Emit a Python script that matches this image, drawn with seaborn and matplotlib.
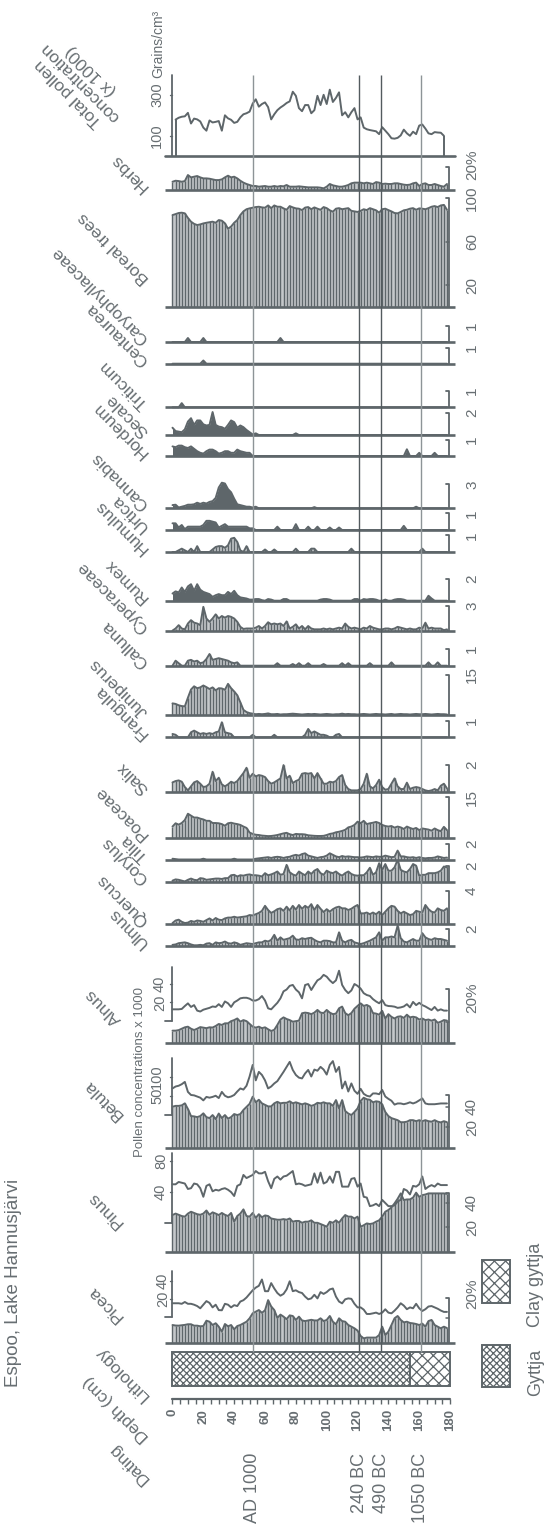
import numpy as np
import matplotlib
matplotlib.use("Agg")
import matplotlib.pyplot as plt
from matplotlib.patches import Rectangle
import seaborn as sns

sns.set_theme(style="white")
plt.rcParams["font.family"] = ["Liberation Sans", "DejaVu Sans"]
plt.rcParams["hatch.linewidth"] = 0.9

# ------------------------------------------------------------------
# Data: sample depths (cm), pollen percentages and concentrations
# ------------------------------------------------------------------
DEPTH = np.arange(0, 180, 2)
TOTAL_DEPTH = DEPTH[1:89]

PICEA_PCT = [14.4, 14.0, 13.9, 14.2, 14.5, 15.0, 15.0, 13.9, 13.9, 13.4,
             13.6, 17.8, 17.0, 14.4, 15.8, 13.1, 9.2, 15.2, 13.4, 14.4,
             11.0, 13.6, 14.4, 15.7, 17.0, 19.7, 23.6, 24.9, 26.2, 24.0,
             26.0, 34.0, 29.0, 26.2, 20.0, 22.6, 21.0, 19.0, 22.0, 21.5,
             18.4, 21.0, 18.0, 17.5, 18.0, 18.5, 18.0, 18.0, 19.7, 17.5,
             18.4, 21.5, 17.0, 15.0, 19.7, 17.5, 17.0, 14.4, 13.1, 11.8,
             10.0, 5.8, 3.9, 4.5, 4.5, 4.5, 4.5, 6.5, 13.1, 6.5,
             9.2, 14.4, 19.7, 21.5, 18.4, 16.5, 17.0, 16.0, 15.7, 15.2,
             14.4, 15.5, 13.1, 17.5, 18.4, 14.4, 13.1, 11.8, 13.1, 12.0]
PICEA_CONC = [15.6, 15.6, 15.6, 15.0, 17.0, 15.0, 15.0, 14.0, 12.5, 10.0,
              14.0, 18.0, 16.0, 11.0, 14.0, 8.0, 7.8, 15.0, 14.0, 11.0,
              13.5, 12.5, 17.5, 19.0, 22.0, 26.0, 30.0, 33.0, 35.0, 42.0,
              29.0, 29.0, 38.0, 32.0, 27.0, 24.0, 26.0, 31.0, 40.0, 29.0,
              30.0, 28.0, 27.0, 23.0, 20.0, 21.0, 25.0, 21.0, 28.0, 26.0,
              28.0, 31.0, 32.0, 23.0, 17.5, 15.5, 20.0, 21.0, 20.5, 15.0,
              11.0, 11.0, 8.5, 3.7, 3.7, 4.4, 5.2, 3.7, 5.2, 8.9,
              5.2, 4.4, 7.4, 11.0, 15.6, 13.0, 9.0, 11.0, 10.0, 15.0,
              10.0, 7.0, 9.0, 12.0, 12.5, 11.0, 9.5, 7.5, 6.0, 6.0]
PINUS_PCT = [29.8, 31.0, 30.0, 29.0, 28.5, 31.0, 32.5, 31.5, 30.5, 30.0,
             31.0, 33.5, 30.0, 32.0, 31.0, 29.8, 31.5, 30.0, 29.0, 31.5,
             24.4, 29.0, 31.0, 34.4, 29.0, 28.5, 31.5, 27.5, 30.5, 28.0,
             29.5, 29.0, 27.0, 26.5, 26.0, 26.0, 26.5, 26.0, 27.0, 24.4,
             25.0, 25.0, 23.5, 24.4, 24.4, 25.5, 23.5, 23.5, 22.5, 21.5,
             20.3, 24.4, 23.5, 25.5, 23.5, 27.0, 29.8, 28.5, 28.5, 27.0,
             28.5, 20.3, 21.5, 23.0, 22.5, 23.0, 24.4, 25.5, 28.5, 32.5,
             33.9, 36.0, 39.3, 43.0, 47.4, 42.0, 42.5, 42.5, 44.0, 48.0,
             44.5, 46.0, 46.5, 47.4, 47.4, 47.4, 47.4, 47.4, 47.4, 47.0]
PINUS_CONC = [50, 50, 53, 52, 51, 44, 45, 51, 50, 45,
              34, 48, 50, 41, 43, 42, 44, 45, 43, 40,
              35, 48, 50, 62, 58, 60, 62, 67, 64, 64,
              66, 54, 45, 57, 60, 56, 60, 61, 64, 67,
              50, 51, 50, 48, 49, 50, 64, 52, 65, 51,
              53, 60, 52, 66, 66, 47, 47, 47, 57, 58,
              47, 51, 34, 33, 22, 23, 25, 22, 30, 26,
              22, 22, 23, 28, 30, 44, 42, 37, 48, 47,
              50, 60, 44, 47, 49, 47, 51, 49, 49, 49]
BETULA_PCT = [40.2, 41.0, 41.0, 41.5, 43.5, 38.0, 31.0, 30.7, 30.0, 31.0,
              33.7, 30.0, 29.0, 32.0, 28.0, 33.5, 29.0, 32.0, 28.5, 30.0,
              33.0, 32.0, 33.0, 37.0, 40.0, 43.0, 50.0, 44.5, 47.0, 43.5,
              42.0, 40.5, 40.5, 43.5, 45.0, 43.5, 44.0, 44.0, 45.5, 43.5,
              44.5, 43.5, 42.5, 43.5, 42.5, 41.0, 42.0, 44.0, 43.5, 44.5,
              43.5, 43.5, 41.0, 46.7, 38.6, 46.7, 36.0, 33.5, 32.0, 35.0,
              38.5, 45.8, 49.0, 47.5, 47.0, 44.5, 45.5, 45.0, 42.5, 35.0,
              31.0, 29.0, 28.0, 27.0, 25.0, 25.0, 25.5, 27.0, 27.0, 26.0,
              27.0, 26.0, 27.0, 26.0, 25.5, 27.0, 25.5, 24.8, 26.0, 25.0]
BETULA_CONC = [69, 74, 76, 80, 86, 60, 52, 51, 48, 45,
               38, 47, 45, 47, 50, 44, 60, 50, 46, 48,
               52, 61, 69, 66, 76, 100, 130, 90, 112, 104,
               90, 69, 74, 82, 88, 100, 112, 125, 138, 117,
               104, 97, 95, 108, 117, 100, 118, 115, 125, 118,
               105, 130, 140, 112, 125, 69, 87, 61, 82, 63,
               55, 68, 55, 50, 48, 56, 56, 54, 65, 48,
               42, 37, 27, 30, 30, 28, 30, 33, 30, 33,
               38, 43, 30, 28, 28, 28, 29, 30, 30, 30]
ALNUS_PCT = [11.7, 11.7, 12.2, 13.5, 14.8, 15.4, 13.5, 12.3, 13.5, 15.0,
             14.5, 14.0, 14.8, 14.6, 16.0, 17.9, 17.0, 18.5, 18.5, 20.5,
             21.5, 23.0, 20.0, 21.5, 20.5, 18.0, 15.4, 14.5, 15.4, 14.0,
             14.8, 13.0, 11.4, 12.5, 17.0, 22.0, 24.0, 22.5, 21.5, 20.0,
             20.5, 21.0, 27.8, 28.4, 28.0, 27.0, 28.4, 30.9, 28.4, 28.0,
             30.9, 28.4, 27.0, 27.5, 32.4, 34.0, 28.0, 26.0, 28.0, 32.0,
             34.6, 37.0, 34.6, 35.5, 34.0, 28.0, 27.5, 26.5, 30.0, 23.0,
             27.0, 24.5, 23.0, 24.6, 25.0, 23.5, 26.5, 24.0, 24.6, 24.0,
             22.0, 23.0, 21.5, 22.0, 21.0, 22.0, 19.0, 20.0, 21.5, 21.0]
ALNUS_CONC = [12.4, 12.4, 12.4, 12.8, 16.0, 18.9, 15.0, 17.0, 11.0, 10.0,
              12.0, 13.0, 14.0, 15.5, 15.0, 18.0, 15.0, 21.0, 19.0, 15.0,
              20.0, 22.0, 24.4, 25.0, 25.0, 24.0, 22.0, 22.0, 23.5, 26.9,
              22.0, 13.5, 12.4, 16.0, 19.5, 24.4, 32.0, 34.0, 38.0, 39.0,
              34.0, 31.0, 24.4, 38.9, 40.0, 33.5, 39.0, 44.0, 46.0, 50.0,
              48.0, 44.0, 41.0, 44.0, 54.5, 39.0, 33.5, 30.0, 33.0, 40.0,
              38.0, 35.0, 30.0, 28.0, 27.0, 23.5, 21.0, 19.0, 22.5, 17.0,
              16.0, 15.8, 15.3, 14.0, 14.5, 15.5, 18.0, 14.5, 20.5, 17.0,
              19.5, 17.0, 15.5, 13.5, 11.6, 15.0, 11.0, 12.4, 11.0, 11.0]
ULMUS = [0.1, 0.15, 0.3, 0.35, 0.4, 0.3, 0.15, 0.05, 0.05, 0.1,
         0.05, 0.25, 0.3, 0.1, 0.4, 0.3, 0.35, 0.5, 0.3, 0.25,
         0.4, 0.3, 0.1, 0.2, 0.3, 0.25, 0.2, 0.3, 0.4, 0.4,
         0.6, 0.5, 0.7, 1.3, 0.6, 1.0, 0.7, 0.8, 0.9, 1.2,
         0.75, 0.7, 0.9, 0.8, 0.9, 0.95, 0.7, 0.5, 0.4, 0.6,
         0.6, 0.55, 0.4, 0.4, 1.6, 0.6, 0.4, 0.6, 0.7, 0.4,
         0.3, 0.2, 0.3, 0.45, 0.6, 0.8, 1.0, 1.6, 0.6, 1.0,
         1.0, 1.1, 1.0, 2.4, 0.9, 0.5, 0.4, 0.6, 0.8, 0.6,
         0.6, 1.5, 1.0, 0.8, 0.7, 0.9, 0.8, 0.8, 0.7, 0.6]
QUERCUS = [0.15, 0.45, 0.55, 0.3, 0.15, 0.2, 0.4, 0.3, 0.45, 0.4,
           0.3, 0.5, 0.7, 0.45, 0.75, 0.55, 0.5, 0.7, 0.8, 0.8,
           0.9, 0.8, 0.85, 0.9, 0.95, 1.1, 1.05, 1.2, 1.35, 1.6,
           2.2, 1.7, 1.35, 1.55, 1.8, 1.9, 1.6, 2.1, 1.65, 2.2,
           1.75, 2.3, 1.85, 2.2, 1.95, 2.4, 1.7, 2.3, 1.85, 1.45,
           1.8, 1.5, 1.8, 2.0, 2.1, 1.9, 1.9, 1.7, 1.85, 2.1,
           2.3, 1.3, 1.3, 1.4, 1.2, 1.4, 1.2, 1.5, 1.1, 1.5,
           1.9, 2.2, 2.1, 1.6, 1.3, 1.5, 1.3, 1.1, 1.2, 1.6,
           1.5, 1.4, 2.3, 1.8, 1.5, 1.4, 1.9, 1.7, 1.6, 1.9]
CORYLUS = [0.2, 0.35, 0.3, 0.2, 0.1, 0.3, 0.45, 0.3, 0.25, 0.5,
           0.45, 0.3, 0.35, 0.4, 0.45, 0.45, 0.4, 0.5, 0.5, 0.85,
           0.9, 0.7, 0.85, 0.8, 0.9, 0.95, 0.85, 0.85, 0.8, 0.7,
           1.1, 0.85, 0.95, 1.1, 1.3, 0.9, 1.0, 2.1, 1.2, 0.95,
           0.8, 1.3, 1.05, 0.85, 1.3, 1.0, 1.4, 1.6, 1.1, 0.9,
           1.4, 1.2, 1.1, 1.3, 1.0, 0.8, 1.1, 1.3, 1.0, 0.85,
           0.8, 0.85, 0.85, 1.2, 1.75, 0.9, 1.2, 2.3, 1.5, 2.2,
           1.4, 1.4, 1.8, 2.7, 1.5, 1.3, 1.2, 1.6, 2.2, 2.0,
           0.8, 0.9, 0.9, 1.1, 1.1, 1.1, 1.2, 1.4, 1.9, 1.8]
TILIA = [0.1, 0.05, 0, 0, 0, 0, 0, 0, 0, 0,
         0.1, 0, 0, 0, 0, 0, 0, 0, 0, 0,
         0.1, 0, 0, 0, 0, 0, 0, 0.1, 0.15, 0.2,
         0.25, 0.3, 0.2, 0.3, 0.35, 0.3, 0.2, 0.3, 0.35, 0.5,
         0.6, 0.5, 0.7, 0.8, 0.5, 0.4, 0.3, 0.2, 0.3, 0.35,
         0.5, 0.8, 0.6, 0.4, 0.3, 0.45, 0.35, 0.4, 0.35, 0.3,
         0.3, 0.25, 0.3, 0.4, 0.35, 0.3, 0.4, 0.35, 0.35, 0.5,
         0.4, 0.3, 0.35, 1.15, 0.4, 0.4, 0.3, 0.25, 0.3, 0.2,
         0.3, 0.2, 0.15, 0.2, 0.2, 0.25, 0.4, 0.3, 0.2, 0.25]
POACEAE = [4.3, 5.5, 5.0, 5.6, 6.7, 9.0, 8.3, 7.6, 7.6, 7.2,
           6.9, 6.4, 6.4, 5.6, 5.6, 5.5, 5.2, 4.6, 5.5, 5.7,
           5.4, 5.2, 4.9, 4.3, 3.8, 2.1, 1.6, 1.3, 1.2, 1.0,
           0.9, 0.8, 0.85, 1.0, 1.2, 1.5, 1.8, 2.0, 1.5, 1.2,
           1.6, 1.5, 1.5, 1.4, 1.1, 1.0, 0.9, 0.85, 0.85, 0.9,
           1.2, 1.6, 1.8, 2.2, 2.4, 2.7, 3.1, 4.0, 4.3, 4.9,
           6.1, 5.5, 6.4, 5.2, 5.5, 5.7, 6.0, 5.6, 4.9, 4.5,
           4.3, 4.5, 3.9, 4.3, 4.0, 3.4, 4.3, 3.8, 3.4, 3.8,
           3.0, 3.6, 3.4, 3.2, 2.8, 3.6, 3.0, 2.6, 4.2, 3.0]
SALIX = [0.7, 0.8, 0.85, 0.75, 0.35, 0.1, 0.4, 0.7, 0.8, 0.6,
         0.35, 0.4, 0.6, 1.5, 0.8, 1.05, 0.55, 0.4, 0.55, 0.75,
         0.65, 0.8, 1.1, 1.4, 1.8, 1.05, 1.35, 1.15, 1.25, 1.2,
         1.1, 0.8, 0.6, 0.7, 0.85, 1.0, 2.0, 1.0, 1.2, 0.65,
         0.8, 0.9, 1.35, 1.4, 1.35, 1.4, 1.0, 1.4, 1.0, 0.6,
         0.6, 0.75, 0.7, 0.8, 1.1, 1.25, 0.5, 0.2, 0.1, 0.1,
         0.1, 0.2, 0.6, 1.35, 0.4, 0.25, 0.5, 0.9, 0.35, 0.15,
         0.2, 0.6, 1.0, 0.4, 0.2, 0.2, 0.68, 0.2, 0.3, 0.35,
         0.3, 0.2, 0.1, 0.05, 0.1, 0.2, 0.1, 0.45, 0.6, 0.25]
FRANGULA = [0.2, 0.15, 0, 0, 0, 0, 0.3, 0.4, 0.3, 0.2,
            0.25, 0.2, 0.25, 0.2, 0.3, 0.35, 0.9, 0.3, 0.25, 0.2,
            0, 0, 0, 0, 0, 0, 0.15, 0, 0, 0,
            0, 0, 0, 0.15, 0, 0, 0, 0, 0, 0,
            0, 0, 0, 0.15, 0.5, 0.25, 0.35, 0.25, 0.15, 0.15,
            0.1, 0, 0, 0.15, 0.2, 0, 0, 0, 0, 0,
            0, 0, 0, 0, 0, 0, 0, 0, 0, 0,
            0, 0, 0, 0, 0, 0, 0, 0, 0, 0,
            0, 0, 0, 0, 0, 0, 0, 0, 0, 0]
JUNIPERUS = [4.4, 4.2, 3.7, 3.4, 3.3, 6.5, 9.5, 10.7, 10.0, 10.3,
             11.0, 10.4, 9.7, 10.3, 9.2, 10.0, 9.9, 9.4, 11.6, 10.0,
             8.8, 7.4, 4.8, 2.0, 1.2, 0.8, 0.6, 0.4, 0.5, 0.4,
             0.5, 0.7, 0.4, 0.4, 0.5, 0.3, 0.4, 0.4, 0.5, 0.6,
             0.5, 0.4, 0.3, 0.4, 0.5, 0.4, 0.5, 0.4, 0.3, 0.4,
             0.5, 0.4, 0.3, 0.4, 0.4, 0.6, 0.4, 0.5, 0.4, 0.4,
             0.3, 0.4, 0.5, 0.4, 0.3, 0.4, 0.5, 0.4, 0.4, 0.3,
             0.4, 0.5, 0.3, 0.4, 0.5, 0.4, 0.4, 0.3, 0.4, 0.5,
             0.4, 0.4, 0.5, 0.4, 0.3, 0.4, 0.5, 0.4, 0.4, 0.3]
CALLUNA = [0, 0.3, 0.15, 0, 0, 0.3, 0.35, 0.25, 0.3, 0.15,
           0.2, 0.4, 0.7, 0.35, 0.4, 0.45, 0.4, 0.35, 0.3, 0.2,
           0.15, 0.2, 0, 0, 0, 0, 0, 0, 0, 0,
           0, 0, 0, 0, 0.15, 0, 0, 0, 0, 0.1,
           0, 0.15, 0, 0, 0.15, 0, 0, 0, 0, 0.1,
           0, 0, 0, 0, 0, 0.15, 0, 0.15, 0, 0,
           0, 0, 0, 0, 0.15, 0, 0, 0, 0, 0,
           0, 0.2, 0, 0, 0, 0, 0, 0, 0, 0,
           0, 0, 0, 0.2, 0, 0, 0.2, 0, 0, 0]
CYPERACEAE = [0.05, 0.3, 0.7, 0.3, 0.2, 0.9, 1.3, 1.0, 0.9, 0.7,
              2.9, 1.5, 1.1, 1.5, 2.0, 1.5, 1.8, 1.6, 1.8, 1.7,
              1.5, 1.1, 0.5, 0.25, 0.3, 0.3, 0.3, 0.4, 0.6, 0.3,
              0.6, 1.05, 0.8, 0.9, 0.8, 0.9, 0.6, 1.15, 0.3, 0.5,
              0.8, 0.3, 0.6, 0.2, 0.6, 0.3, 0.2, 0.2, 0.2, 0.3,
              0.2, 0.3, 0.2, 0.3, 0.4, 0.3, 0.9, 0.5, 0.3, 0.4,
              0.3, 0.2, 0.4, 0.3, 0.6, 0.4, 0.3, 0.2, 0.2, 0.3,
              0.3, 0.2, 0.3, 0.5, 0.4, 0.3, 0.2, 0.3, 0.2, 0.2,
              0.4, 0.3, 1.0, 0.3, 0.4, 0.3, 0.3, 0.3, 0.1, 0.2]
RUMEX = [0.65, 0.85, 0.75, 1.2, 0.8, 1.3, 1.5, 0.9, 1.5, 1.0,
         0.8, 0.7, 0.6, 0.35, 0.5, 0.6, 0.5, 0.5, 0.8, 0.6,
         0.9, 0.5, 0.3, 0.25, 0.2, 0.1, 0.1, 0.15, 0.15, 0.05,
         0, 0.15, 0.1, 0, 0, 0, 0.15, 0.15, 0, 0,
         0, 0, 0, 0, 0, 0, 0, 0, 0.1, 0.15,
         0.15, 0.1, 0, 0, 0, 0, 0, 0, 0, 0.15,
         0.15, 0, 0.15, 0.1, 0.15, 0.15, 0.1, 0, 0, 0.1,
         0, 0, 0.1, 0.15, 0.15, 0.1, 0, 0, 0, 0,
         0, 0, 0, 0.45, 0.2, 0, 0, 0, 0, 0]
HUMULUS = [0, 0, 0.1, 0.2, 0.1, 0, 0.2, 0, 0.35, 0,
           0, 0, 0, 0.15, 0.3, 0.35, 0.35, 0.25, 0.4, 0.8,
           0.85, 0.6, 0.1, 0, 0.35, 0, 0, 0, 0, 0,
           0.15, 0, 0, 0.15, 0, 0, 0, 0, 0, 0,
           0.2, 0, 0, 0, 0, 0.2, 0.2, 0, 0, 0,
           0, 0, 0, 0, 0, 0, 0, 0, 0.2, 0,
           0, 0, 0, 0, 0, 0, 0, 0, 0, 0,
           0, 0, 0, 0, 0, 0, 0, 0, 0, 0,
           0, 0.2, 0, 0, 0, 0, 0, 0, 0, 0]
URTICA = [0.4, 0.4, 0.15, 0.3, 0.05, 0.2, 0.2, 0.2, 0.2, 0.2,
          0.3, 0.55, 0.55, 0.5, 0.45, 0.15, 0.25, 0.35, 0.2, 0.2,
          0.2, 0.2, 0.2, 0.2, 0.2, 0.1, 0.1, 0, 0, 0,
          0, 0, 0, 0, 0.2, 0, 0, 0, 0, 0,
          0.35, 0, 0, 0, 0.2, 0, 0, 0.2, 0, 0,
          0, 0.15, 0, 0, 0.15, 0, 0, 0, 0, 0,
          0, 0, 0, 0, 0, 0, 0, 0, 0, 0,
          0, 0, 0, 0, 0, 0.25, 0, 0, 0, 0,
          0, 0, 0, 0, 0, 0, 0, 0, 0, 0]
CANNABIS = [0.4, 0.45, 0.1, 0.2, 0.3, 0.45, 0.45, 0.5, 0.7, 0.55,
            0.7, 0.6, 0.8, 0.9, 1.3, 2.6, 3.2, 3.1, 2.4, 2.0,
            1.2, 0.5, 0.4, 0.3, 0.2, 0.2, 0.1, 0.2, 0, 0,
            0, 0, 0, 0, 0, 0, 0, 0, 0, 0,
            0, 0, 0, 0, 0, 0, 0.15, 0, 0, 0,
            0, 0, 0, 0, 0, 0, 0, 0, 0, 0,
            0, 0, 0, 0, 0, 0, 0, 0, 0, 0,
            0, 0, 0, 0, 0, 0, 0, 0, 0, 0.2,
            0, 0, 0, 0, 0, 0, 0, 0, 0, 0]
HORDEUM = [0.6, 0.55, 0.65, 0.65, 0.55, 0.5, 0.6, 0.45, 0.3, 0.2,
           0.15, 0.3, 0.4, 0.4, 0.3, 0.15, 0.2, 0.3, 0.3, 0.2,
           0.2, 0.4, 0.3, 0.25, 0.2, 0.2, 0, 0, 0, 0,
           0, 0, 0, 0, 0, 0, 0, 0, 0, 0,
           0, 0, 0, 0, 0, 0, 0, 0, 0, 0,
           0, 0, 0, 0, 0, 0, 0, 0, 0, 0,
           0, 0, 0, 0, 0, 0, 0, 0, 0, 0,
           0, 0, 0, 0, 0, 0, 0.42, 0, 0, 0,
           0.2, 0, 0, 0, 0, 0.2, 0, 0, 0, 0]
SECALE = [0.65, 0.35, 0.3, 0.25, 0.5, 1.2, 1.5, 0.9, 1.3, 1.3,
          0.95, 0.85, 0.9, 2.05, 0.9, 0.75, 0.7, 0.55, 0.9, 1.3,
          1.15, 0.65, 0.85, 0.7, 0.45, 0.25, 0.05, 0.15, 0, 0,
          0, 0, 0, 0, 0, 0, 0, 0, 0, 0,
          0.15, 0, 0, 0, 0, 0, 0, 0, 0, 0,
          0, 0, 0, 0, 0, 0, 0, 0, 0, 0,
          0, 0, 0, 0, 0, 0, 0, 0, 0, 0,
          0, 0, 0, 0, 0, 0, 0, 0, 0, 0,
          0, 0, 0, 0, 0, 0, 0, 0, 0, 0]
TRITICUM = [0, 0, 0, 0.25] + [0] * 86
CENTAUREA = [0] * 10 + [0.2] + [0] * 79
CARYOPHYLLACEAE = [0, 0, 0, 0, 0, 0.25, 0, 0, 0, 0,
                   0.25, 0, 0, 0, 0, 0, 0, 0, 0, 0,
                   0, 0, 0, 0, 0, 0, 0, 0, 0, 0,
                   0, 0, 0, 0, 0, 0.25, 0, 0, 0, 0] + [0] * 50
BOREAL = [84.6, 85.5, 86.5, 86.8, 86.2, 82.0, 78.5, 76.5, 75.4, 76.0,
          76.9, 77.5, 78.0, 78.5, 77.5, 80.0, 79.4, 77.0, 72.0, 74.0,
          77.5, 80.0, 84.6, 88.0, 90.0, 90.8, 91.4, 92.0, 92.3, 91.7,
          91.4, 93.5, 91.0, 93.5, 92.3, 92.3, 90.8, 89.5, 92.9, 91.7,
          90.8, 90.5, 89.2, 91.5, 92.0, 90.0, 91.7, 90.5, 89.5, 92.0,
          91.0, 89.0, 87.7, 90.5, 91.0, 90.0, 90.5, 91.0, 88.5, 88.0,
          87.5, 88.5, 90.0, 89.2, 91.0, 90.0, 89.0, 86.8, 90.0, 90.5,
          89.2, 88.0, 86.5, 86.2, 87.5, 89.0, 89.5, 90.5, 91.0, 89.5,
          90.8, 90.5, 90.0, 91.0, 92.3, 92.9, 92.0, 93.5, 94.0, 89.5]
HERBS = [7.1, 8.0, 7.7, 7.1, 7.7, 13.1, 11.0, 11.6, 12.2, 11.0,
         10.1, 10.1, 9.8, 9.2, 8.6, 8.6, 9.2, 11.0, 12.5, 11.0,
         11.6, 10.1, 8.0, 6.3, 5.1, 4.2, 3.3, 3.3, 2.7, 3.0,
         3.3, 2.7, 2.7, 3.3, 2.7, 3.3, 3.0, 4.2, 2.7, 2.7,
         2.7, 3.0, 2.7, 2.4, 2.1, 2.1, 2.1, 2.1, 1.8, 1.2,
         2.7, 5.1, 3.9, 3.3, 2.7, 2.7, 3.3, 4.2, 5.7, 6.3,
         6.3, 6.3, 5.7, 6.3, 5.7, 5.1, 6.8, 6.3, 5.1, 5.4,
         5.1, 5.1, 5.7, 5.7, 5.1, 4.5, 4.2, 4.5, 5.7, 6.3,
         3.3, 5.1, 5.7, 4.2, 4.2, 5.1, 4.2, 3.3, 2.7, 5.1]
TOTAL_CONC = [179, 188, 193, 195, 212, 160, 184, 180, 170, 140,
              125, 175, 165, 168, 172, 125, 200, 185, 178, 163,
              168, 190, 205, 210, 218, 257, 278, 242, 255, 263,
              240, 180, 205, 225, 238, 248, 260, 268, 315, 295,
              235, 220, 250, 250, 210, 225, 295, 250, 300, 255,
              325, 265, 285, 312, 200, 215, 190, 215, 235, 180,
              190, 140, 132, 128, 125, 122, 108, 142, 125, 108,
              88, 86, 90, 102, 130, 112, 100, 120, 108, 150,
              155, 135, 112, 108, 118, 116, 115, 100]

DATE_LABELS = ["AD 1000", "240 BC", "490 BC", "1050 BC"]
DATE_DEPTHS = [52, 121.2, 135.4, 160.9]
GYTTJA_END = 154
DEPTH_TICKS = list(range(0, 181, 20))

# ------------------------------------------------------------------
# Page geometry (pixels) and styling
# ------------------------------------------------------------------
W, H = 551, 1533
ORIGIN_PX, CM_PX = 172.5, 1.542          # depth 0 position and px per cm
XLIM = (-ORIGIN_PX / CM_PX, (W - ORIGIN_PX) / CM_PX)
BASE_FROM, BASE_TO = -4.9, 183.0          # extent of panel baselines (cm)
SCALE_D = 179.0                           # depth where scale brackets sit
INK = "#5e666a"
FILL = "#c4c8ca"
TXT = "#676e72"
LAB_FS = 12.5

fig = plt.figure(figsize=(W / 100, H / 100), dpi=100)
fig.patch.set_facecolor("white")


def ptext(px, py, s, **kw):
    kw.setdefault("color", TXT)
    fig.text(px / W, 1 - py / H, s, **kw)


def make_axes(base_py, ppu, top_val):
    ax = fig.add_axes([0, 1 - base_py / H, 1, top_val * ppu / H])
    ax.set_xlim(*XLIM)
    ax.set_ylim(0, top_val)
    ax.axis("off")
    ax.patch.set_alpha(0)
    return ax


def curve(ax, x, y, lw=1.4):
    sns.lineplot(x=x, y=y, ax=ax, color=INK, linewidth=lw, estimator=None,
                 sort=False, legend=False, clip_on=False)


def taxon(ax, vals, style):
    v = np.asarray(vals, float)
    if style == "dark":
        ax.fill_between(DEPTH, 0, v, color=INK, lw=0, clip_on=False)
    else:
        ax.fill_between(DEPTH, 0, v, color=FILL, lw=0, clip_on=False)
        ax.vlines(DEPTH, 0, v, color=INK, lw=1.0, clip_on=False)
    curve(ax, DEPTH, v)
    ax.plot([BASE_FROM, BASE_TO], [0, 0], color=INK, lw=1.9,
            solid_capstyle="butt", clip_on=False)


def bracket(ax, top, ticks=()):
    ax.plot([SCALE_D - 1.8, SCALE_D, SCALE_D], [top, top, 0], color=INK,
            lw=1.3, clip_on=False)
    for t in ticks:
        ax.plot([SCALE_D - 1.8, SCALE_D], [t, t], color=INK, lw=1.1,
                clip_on=False)


# name, values, baseline px, px per unit, style, bracket top, bracket ticks,
# scale labels [(value, text)], label anchor px
PANELS = [
    ("Picea", PICEA_PCT, 1343.3, 1.27, "bars", 35.5, [20], [(38.8, "20%")], (124, 1316)),
    ("Pinus", PINUS_PCT, 1251.7, 1.23, "bars", 48, [20, 40], [(20, "20"), (40, "40")], (124, 1222)),
    ("Betula", BETULA_PCT, 1147.7, 1.02, "bars", 52, [20, 40], [(20, "20"), (40, "40")], (124, 1114)),
    ("Alnus", ALNUS_PCT, 1043.3, 1.08, "bars", 50, [20], [(42, "20%")], (122, 1019)),
    ("Ulmus", ULMUS, 945.7, 8.35, "bars", 2, [], [(2, "2")], (149, 942)),
    ("Quercus", QUERCUS, 924.3, 8.4, "bars", 4, [], [(4, "4")], (149, 920)),
    ("Corylus", CORYLUS, 882.3, 8.3, "bars", 2, [], [(2, "2")], (149, 878)),
    ("Tilia", TILIA, 859.5, 7.75, "bars", 2, [], [(2, "2")], (149, 856)),
    ("Poaceae", POACEAE, 838.3, 2.73, "bars", 15, [], [(15, "15")], (149, 834)),
    ("Salix", SALIX, 791.7, 13.3, "bars", 2, [], [(2, "2")], (149, 788)),
    ("Frangula", FRANGULA, 737.3, 16.7, "bars", 1, [], [(1, "1")], (149, 733)),
    ("Juniperus", JUNIPERUS, 715.3, 2.71, "bars", 15, [], [(15, "15")], (149, 711)),
    ("Calluna", CALLUNA, 665.7, 16.7, "bars", 1, [], [(1, "1")], (149, 662)),
    ("Cyperaceae", CYPERACEAE, 631.0, 8.33, "bars", 3, [], [(3, "3")], (149, 627)),
    ("Rumex", RUMEX, 600.7, 11.0, "dark", 2, [], [(2, "2")], (149, 597)),
    ("Humulus", HUMULUS, 552.0, 16.7, "bars", 1, [], [(1, "1")], (149, 548)),
    ("Urtica", URTICA, 530.0, 16.7, "dark", 1, [], [(1, "1")], (149, 526)),
    ("Cannabis", CANNABIS, 508.3, 8.0, "dark", 3, [], [(3, "3")], (149, 504)),
    ("Hordeum", HORDEUM, 456.0, 16.0, "dark", 1, [], [(1, "1")], (149, 452)),
    ("Secale", SECALE, 435.0, 11.2, "dark", 2, [], [(2, "2")], (149, 431)),
    ("Triticum", TRITICUM, 407.3, 16.7, "dark", 1, [], [(1, "1")], (149, 403)),
    ("Centaurea", CENTAUREA, 363.7, 16.0, "dark", 1, [], [(1, "1")], (149, 360)),
    ("Caryophyllaceae", CARYOPHYLLACEAE, 342.0, 16.0, "dark", 1, [], [(1, "1")], (149, 338)),
    ("Boreal trees", BOREAL, 306.7, 1.083, "bars", 100, [20, 60], [(100, "100"), (60, "60"), (20, "20")], (150, 278)),
    ("Herbs", HERBS, 189.7, 1.12, "bars", 20, [], [(22, "20%")], (149, 186)),
]

for name, vals, base, ppu, style, top, ticks, slabels, lab in PANELS:
    ax = make_axes(base, ppu, max(top, max(vals)) * 1.02)
    taxon(ax, vals, style)
    bracket(ax, top, ticks)
    for v, s in slabels:
        ptext(472, base - v * ppu, s, rotation=90, ha="center", va="center",
              fontsize=11)
    ptext(lab[0], lab[1], name, rotation=135, rotation_mode="anchor",
          ha="left", va="baseline", fontsize=LAB_FS)

# concentration curves drawn above the four main tree panels
CONC = [
    (PICEA_CONC, 1317.3, 0.90, 52, [20, 40], 163),
    (PINUS_CONC, 1223.3, 0.78, 90, [40, 80], 161),
    (BETULA_CONC, 1115.0, 0.385, 147, [50, 100], 157),
    (ALNUS_CONC, 1020.7, 0.917, 59, [20, 40], 160),
]
for vals, zero, ppu, top, ticks, lx in CONC:
    ax = make_axes(zero, ppu, top)
    curve(ax, DEPTH, np.asarray(vals, float))
    ax.plot([0, 0], [0, top], color=INK, lw=1.3, clip_on=False)
    ax.plot([BASE_FROM, 0], [0, 0], color=INK, lw=1.3, clip_on=False)
    for t in ticks:
        ax.plot([-1.3, 0], [t, t], color=INK, lw=1.0, clip_on=False)
        ptext(lx, zero - t * ppu, str(t), rotation=90, ha="center",
              va="center", fontsize=10.5)

# total pollen concentration
ax = make_axes(156.3, 0.205, 397)
tv = np.asarray(TOTAL_CONC, float)
curve(ax, TOTAL_DEPTH, tv)
ax.vlines([TOTAL_DEPTH[0], TOTAL_DEPTH[-1]], 0, [tv[0], tv[-1]], color=INK,
          lw=1.4, clip_on=False)
ax.plot([BASE_FROM, BASE_TO], [0, 0], color=INK, lw=1.9, clip_on=False)
ax.plot([0, 0], [0, 397], color=INK, lw=1.3, clip_on=False)
for t in (100, 300):
    ax.plot([-1.3, 0], [t, t], color=INK, lw=1.0, clip_on=False)
    ptext(157, 156.3 - t * 0.205, str(t), rotation=90, ha="center",
          va="center", fontsize=10.5)
ptext(158, 44, "Grains/cm³", rotation=90, ha="center", va="center",
      fontsize=10)
ptext(80, 82, "Total pollen\nconcentration\n(x 1000)", rotation=135,
      rotation_mode="anchor", ha="center", va="center",
      multialignment="center", linespacing=1.05, fontsize=LAB_FS)
ptext(140, 1072, "Pollen concentrations x 1000", rotation=90, ha="center",
      va="center", fontsize=9.5)

# overlay: depth in x, page pixels in y
ov = fig.add_axes([0, 0, 1, 1])
ov.set_xlim(*XLIM)
ov.set_ylim(H, 0)
ov.axis("off")
ov.patch.set_alpha(0)

date_cols = ["#8d9497", "#535b5f", "#535b5f", "#8d9497"]
ov.vlines(DATE_DEPTHS, 75, 1352, colors=date_cols, lw=1.0)
for d, s in zip(DATE_DEPTHS, DATE_LABELS):
    ov.text(d, 1453, s, rotation=90, ha="center", va="top", fontsize=13,
            color=TXT)

# lithology column
ov.add_patch(Rectangle((0, 1352), GYTTJA_END, 34, facecolor="white",
                       edgecolor=INK, hatch="xxxxx", lw=1.4))
ov.add_patch(Rectangle((GYTTJA_END, 1352), 180 - GYTTJA_END, 34,
                       facecolor="white", edgecolor=INK, hatch="xxx", lw=1.4))

# depth scale
ov.plot([0, 180], [1399, 1399], color=INK, lw=1.6)
ov.vlines(np.arange(0, 181, 5), 1399, 1403.5, color=INK, lw=1.0)
for d in DEPTH_TICKS:
    ov.text(d, 1409, str(d), rotation=90, ha="center", va="top",
            fontsize=9.5, fontweight="bold", color=TXT)

# legend
LEG_X = (482 - ORIGIN_PX) / CM_PX
LEG_W = 28 / CM_PX
ov.add_patch(Rectangle((LEG_X, 1345), LEG_W, 42, facecolor="white",
                       edgecolor=INK, hatch="xxxxx", lw=1.4))
ov.add_patch(Rectangle((LEG_X, 1260), LEG_W, 43, facecolor="white",
                       edgecolor=INK, hatch="xxx", lw=1.4))
ptext(536, 1372, "Gyttja", rotation=90, ha="center", va="center", fontsize=13)
ptext(536, 1285, "Clay gyttja", rotation=90, ha="center", va="center",
      fontsize=13)

# column headings for the non-pollen columns and title
ptext(150, 1395, "Lithology", rotation=135, rotation_mode="anchor",
      ha="left", va="baseline", fontsize=LAB_FS)
ptext(150, 1436, "Depth (cm)", rotation=135, rotation_mode="anchor",
      ha="left", va="baseline", fontsize=LAB_FS)
ptext(150, 1478, "Dating", rotation=135, rotation_mode="anchor",
      ha="left", va="baseline", fontsize=LAB_FS)
ptext(14, 1283, "Espoo, Lake Hannusjärvi", rotation=90, ha="center",
      va="center", fontsize=13.5)

fig.savefig("out.png", dpi=100, facecolor="white")
